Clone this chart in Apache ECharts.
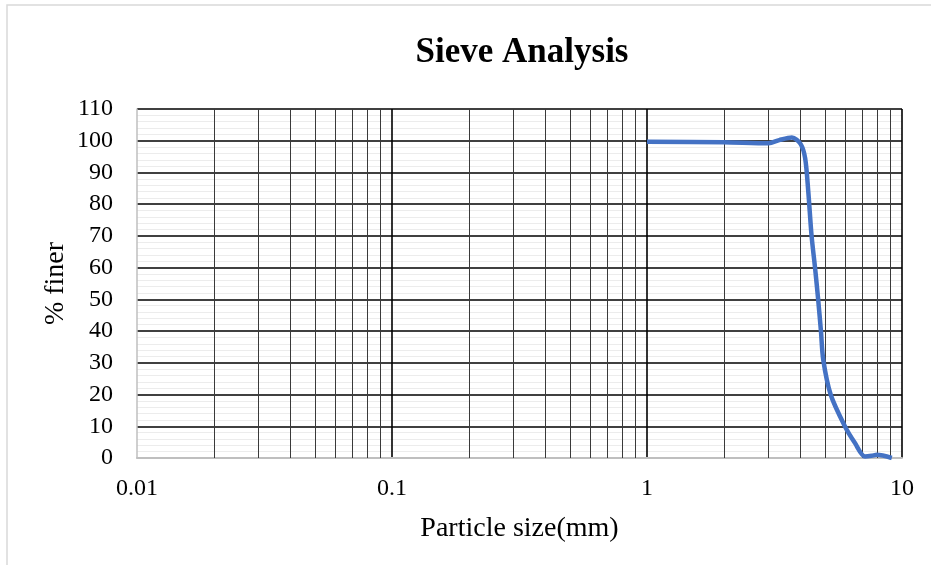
<!DOCTYPE html>
<html>
<head>
<meta charset="utf-8">
<script src="https://cdn.jsdelivr.net/npm/echarts@6/dist/echarts.min.js"></script>
<style>
html,body{margin:0;padding:0;background:#fff;}
#chart{width:931px;height:565px;}
</style>
</head>
<body>
<div id="chart"></div>
<script>
// Particle size (mm) and % finer
var particleSize = [1, 2, 3, 3.3, 3.7, 4.0, 4.17, 4.29, 4.42, 4.56, 4.69, 4.81, 4.91, 5.25, 5.97, 6.54, 7.16, 7.6, 7.96, 9.12];
var percentFiner = [99.7, 99.5, 99.2, 100.2, 101, 99, 94.5, 84, 70, 60, 50, 40, 31, 20, 10, 4.7, 0.5, 0.7, 1, 0];
// Minor (logarithmic) vertical grid positions
var minorXGrid = [0.02,0.03,0.04,0.05,0.06,0.07,0.08,0.09,
                  0.2,0.3,0.4,0.5,0.6,0.7,0.8,0.9,
                  2,3,4,5,6,7,8,9];
var xTickLabels = ['0.01', '0.1', '1', '10'];

var FONT = '"Liberation Serif", "DejaVu Serif", serif';
var chart = echarts.init(document.getElementById('chart'), null, {renderer: 'canvas'});

var seriesData = particleSize.map(function (d, i) { return [d, percentFiner[i]]; });

chart.setOption({
  animation: false,
  backgroundColor: '#ffffff',
  graphic: [{
    type: 'rect',
    shape: {x: 7, y: 5, width: 1000, height: 1000},
    style: {fill: 'none', stroke: '#d9d9d9', lineWidth: 1.5},
    silent: true,
    z: -10
  }],
  title: {
    text: 'Sieve Analysis',
    left: 522,
    top: 35,
    padding: 0,
    textAlign: 'center',
    textStyle: {fontFamily: FONT, fontSize: 35, fontWeight: 'bold', color: '#000'}
  },
  grid: {left: 137, right: 29, top: 109, bottom: 107, containLabel: false},
  xAxis: {
    type: 'log',
    logBase: 10,
    min: 0.01,
    max: 10,
    name: 'Particle size(mm)',
    nameLocation: 'middle',
    nameGap: 57,
    nameMoveOverlap: false,
    nameTextStyle: {fontFamily: FONT, fontSize: 28, color: '#000'},
    axisLine: {show: true, lineStyle: {color: '#bfbfbf', width: 2}},
    axisTick: {show: false},
    axisLabel: {
      fontFamily: FONT, fontSize: 24, color: '#000', margin: 19,
      formatter: function (v) {
        var e = Math.round(Math.log10(v));
        return xTickLabels[e + 2] !== undefined ? xTickLabels[e + 2] : '';
      }
    },
    splitLine: {show: true, showMinLine: false, lineStyle: {color: '#000', width: 1.6}}
  },
  yAxis: {
    type: 'value',
    min: 0,
    max: 110,
    interval: 10,
    name: '% finer',
    nameLocation: 'middle',
    nameGap: 67,
    nameMoveOverlap: false,
    nameTextStyle: {fontFamily: FONT, fontSize: 28, color: '#000'},
    axisLine: {show: true, lineStyle: {color: '#bfbfbf', width: 1.5}},
    axisTick: {show: false},
    axisLabel: {fontFamily: FONT, fontSize: 24, color: '#000', margin: 24},
    splitLine: {show: true, showMinLine: false, lineStyle: {color: '#000', width: 1.6}},
    minorTick: {show: false, splitNumber: 5},
    minorSplitLine: {show: true, lineStyle: {color: '#ececec', width: 1}}
  },
  series: [{
    type: 'line',
    data: seriesData,
    smooth: 0.3,
    showSymbol: false,
    symbol: 'none',
    lineStyle: {color: '#4472c4', width: 4.5},
    z: 5,
    markLine: {
      silent: true,
      symbol: ['none', 'none'],
      label: {show: false},
      animation: false,
      lineStyle: {color: '#3a3a3a', width: 1, type: 'solid'},
      emphasis: {disabled: true},
      data: minorXGrid.map(function (v) { return {xAxis: v}; })
    }
  }]
});
</script>
</body>
</html>
